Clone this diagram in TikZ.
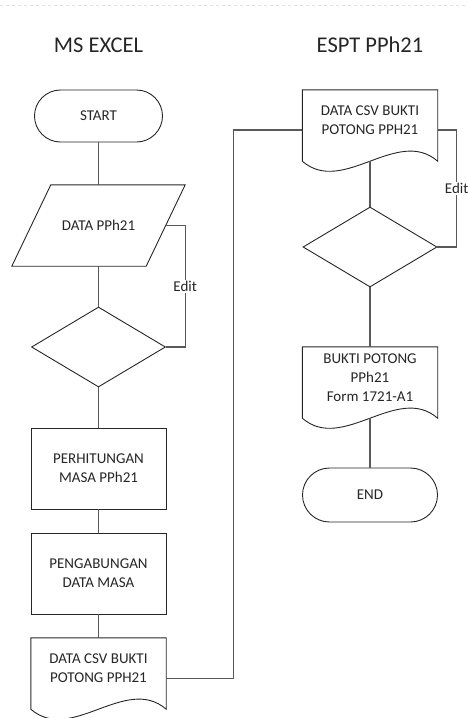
\documentclass[tikz,border=0pt]{standalone}
\usepackage{fontspec}
\setmainfont{Carlito}
\usetikzlibrary{shapes.geometric}

% outline of a document symbol round a node
\newcommand{\docshape}[1]{%
  \draw[shape line] (#1.south west) .. controls +(40.5,35) and +(-40.5,-35) .. (#1.south east)
    -- (#1.north east) -- (#1.north west) -- cycle;}

\begin{document}
\begin{tikzpicture}[x=1pt, y=-1pt,
    every node/.style={font=\fontsize{15}{19}\selectfont, text=black!85},
    title/.style={font=\fontsize{22.5}{27}\selectfont},
    shape line/.style={draw=black!85, line width=0.9pt},
    terminal/.style={shape line, rectangle, rounded corners=26pt, minimum height=52pt},
    box/.style={shape line, rectangle, minimum width=135pt, minimum height=81pt, align=center},
    doc/.style={rectangle, minimum width=135pt, minimum height=71pt, text depth=10pt, align=center},
    cek/.style={shape line, diamond, minimum width=134pt, minimum height=80pt, inner sep=0pt},
    link/.style={draw=black!65, line width=1.2pt},
    lbl/.style={fill=white, inner sep=1pt}]
    \useasboundingbox (0,0) rectangle (468,718);
    \draw[black!12, dashed] (0,5) -- (468,5);

    % titles
    \node[title] (excel) at (98.5,45) {MS EXCEL};
    \node[title] (espt) at (370,45) {ESPT PPh21};

    % MS EXCEL column
    \node[terminal, minimum width=128pt] (start) at (98.5,116) {START};
    \node[minimum width=134pt, minimum height=81pt] (data) at (98.5,225.5) {DATA PPh21};
    \draw[shape line] ([xshift=19.5pt]data.north west) -- ([xshift=19.5pt]data.north east)
        -- ([xshift=-19.5pt]data.south east) -- ([xshift=-19.5pt]data.south west) -- cycle;
    \node[cek] (cek1) at (98.5,347) {};
    \node[box] (hitung) at (98.5,468.5) {PERHITUNGAN\\MASA PPh21};
    \node[box] (gabung) at (98.5,573.5) {PENGABUNGAN\\DATA MASA};
    \node[doc] (csv1) at (98.5,673.5) {DATA CSV BUKTI\\POTONG PPH21};
    \docshape{csv1}

    % ESPT column
    \node[doc] (csv2) at (370,125.5) {DATA CSV BUKTI\\POTONG PPH21};
    \docshape{csv2}
    \node[cek] (cek2) at (370,247) {};
    \node[doc] (bukti) at (370,382.5) {BUKTI POTONG\\PPh21\\Form 1721-A1};
    \docshape{bukti}
    \node[terminal, minimum width=135pt, rounded corners=27pt, minimum height=54pt] (stop) at (370,495) {END};

    % connectors
    \draw[link] (start) -- (data);
    \draw[link] (data) -- (cek1);
    \draw[link] (cek1) -- (hitung);
    \draw[link] (hitung) -- (gabung);
    \draw[link] (gabung) -- (csv1);
    \draw[link] (data.east) -- ++(19.5,0) |- node[lbl, pos=0.25] {Edit} (cek1.east);
    \draw[link] ([yshift=-5pt]csv1.east) -- ++(67,0) |- ([yshift=-4.5pt]csv2.west);
    \draw[link] (csv2.south) -- (cek2.north);
    \draw[link] ([yshift=-4.5pt]csv2.east) -- ++(19,0) |- node[lbl, pos=0.25] {Edit} (cek2.east);
    \draw[link] (cek2) -- (bukti);
    \draw[link] (bukti.south) -- (stop.north);
\end{tikzpicture}
\end{document}
